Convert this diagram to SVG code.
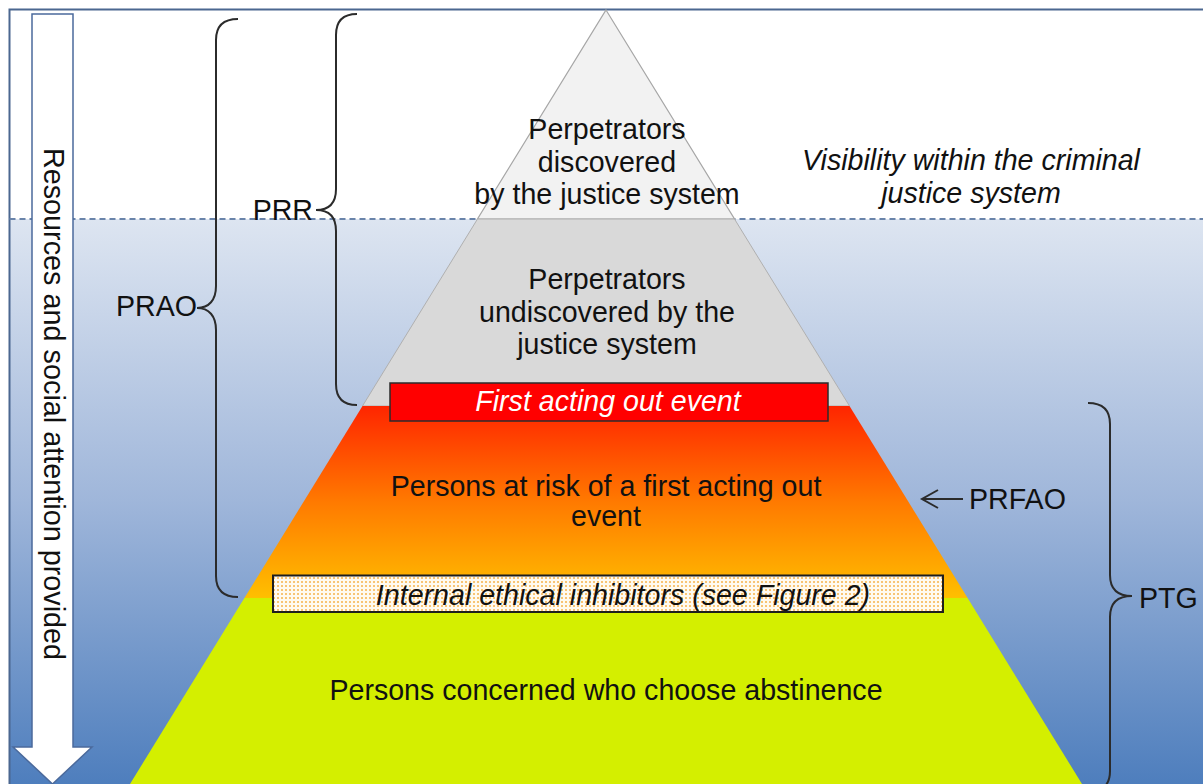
<svg xmlns="http://www.w3.org/2000/svg" width="1203" height="784" viewBox="0 0 1203 784">
<defs>
<linearGradient id="water" x1="0" y1="219" x2="0" y2="784" gradientUnits="userSpaceOnUse">
<stop offset="0" stop-color="#dde5f1"/>
<stop offset="0.5" stop-color="#9fb6da"/>
<stop offset="1" stop-color="#4e7ebd"/>
</linearGradient>
<linearGradient id="orange" x1="0" y1="406" x2="0" y2="598" gradientUnits="userSpaceOnUse">
<stop offset="0" stop-color="#ff2500"/>
<stop offset="0.5" stop-color="#ff7a00"/>
<stop offset="1" stop-color="#ffbf00"/>
</linearGradient>
<pattern id="dots" width="4" height="4" patternUnits="userSpaceOnUse">
<rect width="4" height="4" fill="#fffaf0"/>
<circle cx="2" cy="2" r="1" fill="#f6b24a"/>
</pattern>
</defs>
<style>
.t{font-family:"Liberation Sans",Arial,sans-serif;font-size:28.6px;fill:#111;text-anchor:middle}
.it{font-style:italic}
.lbl{font-family:"Liberation Sans",Arial,sans-serif;font-size:28.6px;fill:#111}
.brace{fill:none;stroke:#2b2b2b;stroke-width:2}
</style>
<rect x="0" y="0" width="1203" height="784" fill="#ffffff"/>
<g id="background">
<rect x="9.5" y="219" width="1194" height="566" fill="url(#water)"/>
<path d="M9.5 784 V9.5 H1203" fill="none" stroke="#4b6790" stroke-width="2"/>
<line x1="9.5" y1="219" x2="1203" y2="219" stroke="#6a84aa" stroke-width="2" stroke-dasharray="6,4"/>
</g>
<g id="level-discovered">
<polygon points="606,10 734.5,219 477.5,219" fill="#f2f2f2" stroke="#a6a6a6" stroke-width="1.2"/>
<text class="t" x="607" y="139">Perpetrators</text>
<text class="t" x="607" y="172">discovered</text>
<text class="t" x="607" y="204">by the justice system</text>
</g>
<g id="level-undiscovered">
<polygon points="477.5,219 734.5,219 849.5,406 362.5,406" fill="#d9d9d9" stroke="#b0b0b0" stroke-width="1"/>
<text class="t" x="607" y="289">Perpetrators</text>
<text class="t" x="607" y="322">undiscovered by the</text>
<text class="t" x="607" y="354">justice system</text>
</g>
<g id="level-at-risk">
<polygon points="362.5,406 849.5,406 967.6,598 244.4,598" fill="url(#orange)"/>
<text class="t" x="606" y="496">Persons at risk of a first acting out</text>
<text class="t" x="606" y="526">event</text>
</g>
<g id="level-abstinence">
<polygon points="244.4,598 967.6,598 1082,784 130,784" fill="#d4ef00"/>
<text class="t" x="606" y="700">Persons concerned who choose abstinence</text>
</g>
<g id="first-acting-out">
<rect x="390" y="383" width="438" height="38" fill="#ff0000" stroke="#2b2b2b" stroke-width="1.5"/>
<text class="t it" x="608" y="411" style="fill:#ffffff">First acting out event</text>
</g>
<g id="inhibitors">
<rect x="273" y="575.5" width="670" height="36.5" fill="url(#dots)" stroke="#1e1e1e" stroke-width="2"/>
<text class="t it" x="623" y="605">Internal ethical inhibitors (see Figure 2)</text>
</g>
<g id="visibility-label">
<text class="t it" x="971" y="170">Visibility within the criminal</text>
<text class="t it" x="971" y="203">justice system</text>
</g>
<g id="resources-arrow">
<path d="M32 14 H73 V747 H92 L52.5 784 L13 747 H32 Z" fill="#ffffff" stroke="#4b6a9c" stroke-width="1.5"/>
<text transform="translate(52.5,404) rotate(90)" x="0" y="9" class="t" style="font-size:28.8px">Resources and social attention provided</text>
</g>
<g id="connectors">
<path class="brace" d="M238 19 C224 19 216 26 216 40 V286 C216 300 209 308 197 308 C209 308 216 316 216 330 V576 C216 590 224 597 238 597"/>
<path class="brace" d="M357 14 C343 14 336 21 336 35 V189 C336 203 329 210 316 210 C329 210 336 217 336 231 V384 C336 398 343 405 357 405"/>
<path class="brace" d="M1088 403 C1102 403 1110 410 1110 424 V575 C1110 589 1117 596 1132 596 C1117 596 1110 603 1110 617 V771 C1110 785 1102 792 1088 792"/>
<path d="M963 499 H922 M938 490 L922 499 L938 508" fill="none" stroke="#2b2b2b" stroke-width="2"/>
</g>
<g id="labels">
<text class="lbl" x="197" y="316" text-anchor="end">PRAO</text>
<text class="lbl" x="313" y="220" text-anchor="end">PRR</text>
<text class="lbl" x="969" y="509">PRFAO</text>
<text class="lbl" x="1139" y="608">PTG</text>
</g>
</svg>
